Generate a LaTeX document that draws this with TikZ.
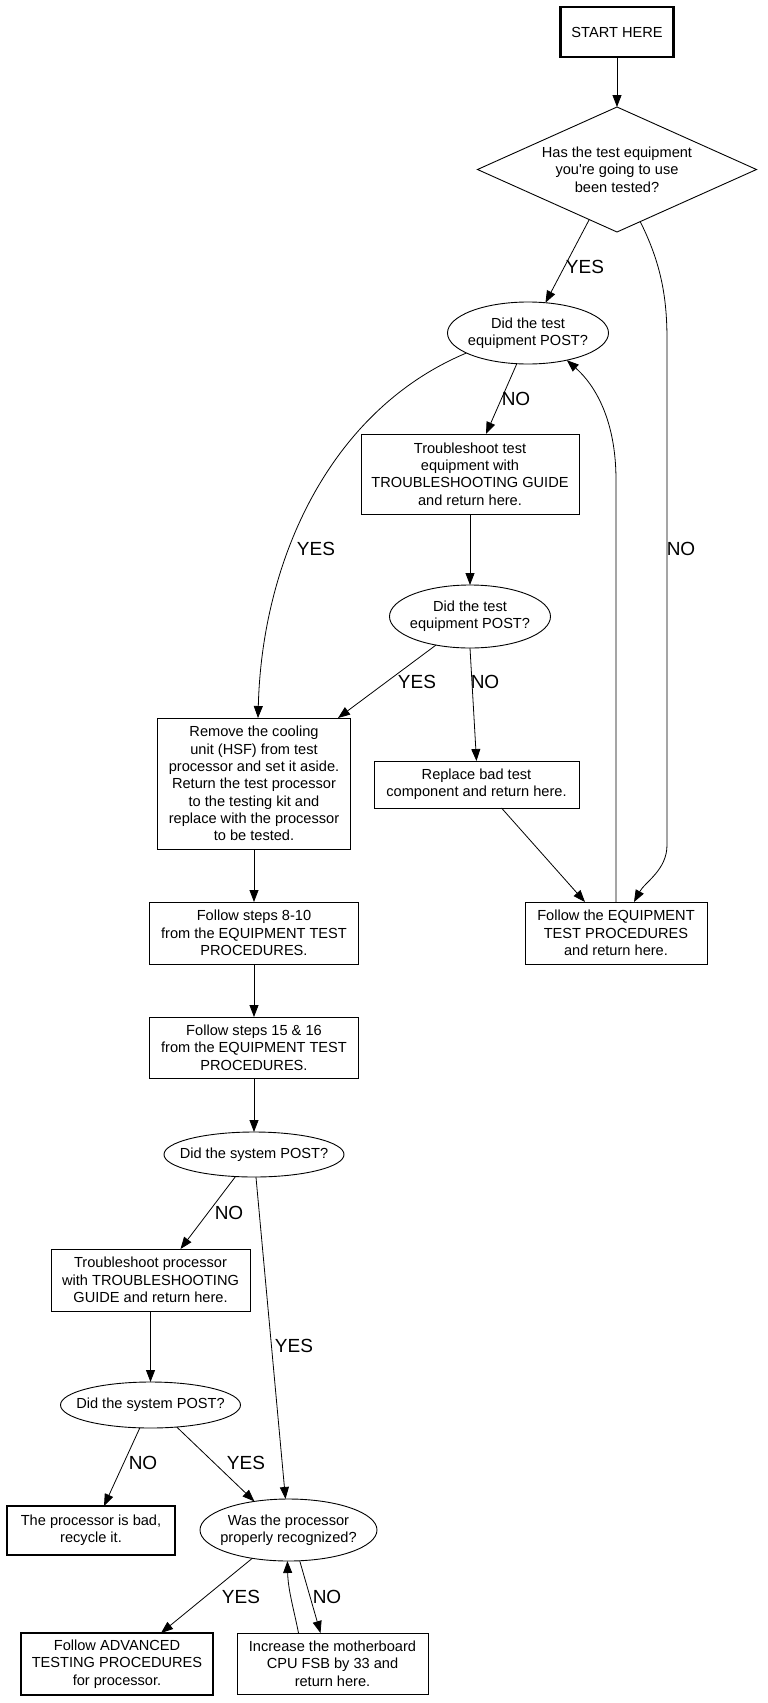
\documentclass[tikz,border=0pt]{standalone}
\usepackage{fontspec}
\setmainfont{Liberation Sans}
\usetikzlibrary{shapes.geometric,arrows.meta,calc}
\begin{document}
\begin{tikzpicture}[x=1pt,y=-1pt,
  every node/.style={font=\fontsize{14.6}{17.3}\selectfont, inner sep=0pt, outer sep=0pt},
  box/.style={draw, line width=0.9pt, rectangle, align=center},
  tbox/.style={box, line width=2.6pt},
  oval/.style={draw, line width=0.9pt, ellipse},
  dmd/.style={draw, line width=0.9pt, diamond},
  lbl/.style={font=\fontsize{19}{22}\selectfont},
  arr/.style={line width=0.8pt, -{Triangle[length=12pt,width=9pt]}},
]
\fill[white] (0,0) rectangle (768,1703);
\useasboundingbox (0,0) rectangle (768,1703);

% nodes
\node[tbox, minimum width=113pt, minimum height=50pt] (start) at (617,32) {START HERE};
\node[dmd, minimum width=279pt, minimum height=125pt,
  label={[align=center]center:{Has the test equipment\\you\textquotesingle re going to use\\been tested?}}] (dia) at (617,169.5) {};
\node[oval, minimum width=161pt, minimum height=62pt,
  label={[align=center]center:{Did the test\\equipment POST?}}] (e1) at (528,333) {};
\node[box, minimum width=218pt, minimum height=80pt] (tt) at (470,474)
  {Troubleshoot test\\equipment with\\TROUBLESHOOTING GUIDE\\and return here.};
\node[oval, minimum width=161pt, minimum height=63pt,
  label={[align=center]center:{Did the test\\equipment POST?}}] (e2) at (470,616.5) {};
\node[box, minimum width=193pt, minimum height=131pt] (rm) at (254,783.5)
  {Remove the cooling\\unit (HSF) from test\\processor and set it aside.\\Return the test processor\\to the testing kit and\\replace with the processor\\to be tested.};
\node[box, minimum width=205pt, minimum height=47pt] (rp) at (476.5,784.5)
  {Replace bad test\\component and return here.};
\node[box, minimum width=209pt, minimum height=62pt] (s810) at (254,933)
  {Follow steps 8-10\\from the EQUIPMENT TEST\\PROCEDURES.};
\node[box, minimum width=182pt, minimum height=62pt] (eq) at (616,933)
  {Follow the EQUIPMENT\\TEST PROCEDURES\\and return here.};
\node[box, minimum width=209pt, minimum height=61pt] (s1516) at (254,1047.5)
  {Follow steps 15 \& 16\\from the EQUIPMENT TEST\\PROCEDURES.};
\node[oval, minimum width=180pt, minimum height=45pt,
  label={[align=center]center:{Did the system POST?}}] (e3) at (254,1154.5) {};
\node[box, minimum width=199pt, minimum height=62pt] (tp) at (150.5,1280)
  {Troubleshoot processor\\with TROUBLESHOOTING\\GUIDE and return here.};
\node[oval, minimum width=180pt, minimum height=46pt,
  label={[align=center]center:{Did the system POST?}}] (e4) at (150.5,1405) {};
\node[tbox, minimum width=168pt, minimum height=49pt] (bad) at (91,1530.5)
  {The processor is bad,\\recycle it.};
\node[oval, minimum width=177pt, minimum height=62pt,
  label={[align=center]center:{Was the processor\\properly recognized?}}] (was) at (288.5,1530) {};
\node[tbox, minimum width=192pt, minimum height=62pt] (adv) at (117,1664)
  {Follow ADVANCED\\TESTING PROCEDURES\\for processor.};
\node[box, minimum width=191pt, minimum height=61pt] (inc) at (332.5,1663.5)
  {Increase the motherboard\\CPU FSB by 33 and\\return here.};

% connectors
\draw[arr] (start) -- (dia);
\draw[arr] (dia.-119) -- (e1.60);
\draw[arr] (dia.-66) .. controls (662,265) and (667,300) .. (667,340) -- (667,845)
  .. controls (667,870) and (645,882) .. ([xshift=18pt]eq.north);
\draw[arr] (e1.-110) -- ([xshift=16pt]tt.north);
\draw[arr] (e1.-162) .. controls (330,410) and (262,560) .. ([xshift=4pt]rm.north);
\draw[arr] (eq.north) -- (616,480) .. controls (616,420) and (595,385) .. (e1.-35);
\draw[arr] (tt) -- (e2);
\draw[arr] (e2.-140) -- ([xshift=84pt]rm.north);
\draw[arr] (e2.south) -- (rp.north);
\draw[arr] ([xshift=25pt]rp.south) -- ([xshift=-31pt]eq.north);
\draw[arr] (rm) -- (s810);
\draw[arr] (s810) -- (s1516);
\draw[arr] (s1516) -- (e3);
\draw[arr] (e3.-130) -- ([xshift=30pt]tp.north);
\draw[arr] (e3.-85) -- ([xshift=-3pt]was.north);
\draw[arr] (tp) -- (e4);
\draw[arr] (e4.-115) -- ([xshift=13pt]bad.north);
\draw[arr] (e4.-40) -- (was.140);
\draw[arr] (was.-142) -- ([xshift=44pt]adv.north);
\draw[arr] (was.-70) -- ([xshift=-12pt]inc.north);
\draw[arr] ([xshift=-34pt]inc.north) .. controls (294,1610) and (288,1590) .. (was.-92);

% edge labels
\node[lbl] (l1) at (585,267) {YES};
\node[lbl] (l2) at (516,399) {NO};
\node[lbl] (l3) at (316,549) {YES};
\node[lbl] (l4) at (681,549) {NO};
\node[lbl] (l5) at (417,682) {YES};
\node[lbl] (l6) at (485,682) {NO};
\node[lbl] (l7) at (229,1213) {NO};
\node[lbl] (l8) at (294,1346) {YES};
\node[lbl] (l9) at (143,1463) {NO};
\node[lbl] (l10) at (246,1463) {YES};
\node[lbl] (l11) at (241,1597) {YES};
\node[lbl] (l12) at (327,1597) {NO};
\end{tikzpicture}
\end{document}
